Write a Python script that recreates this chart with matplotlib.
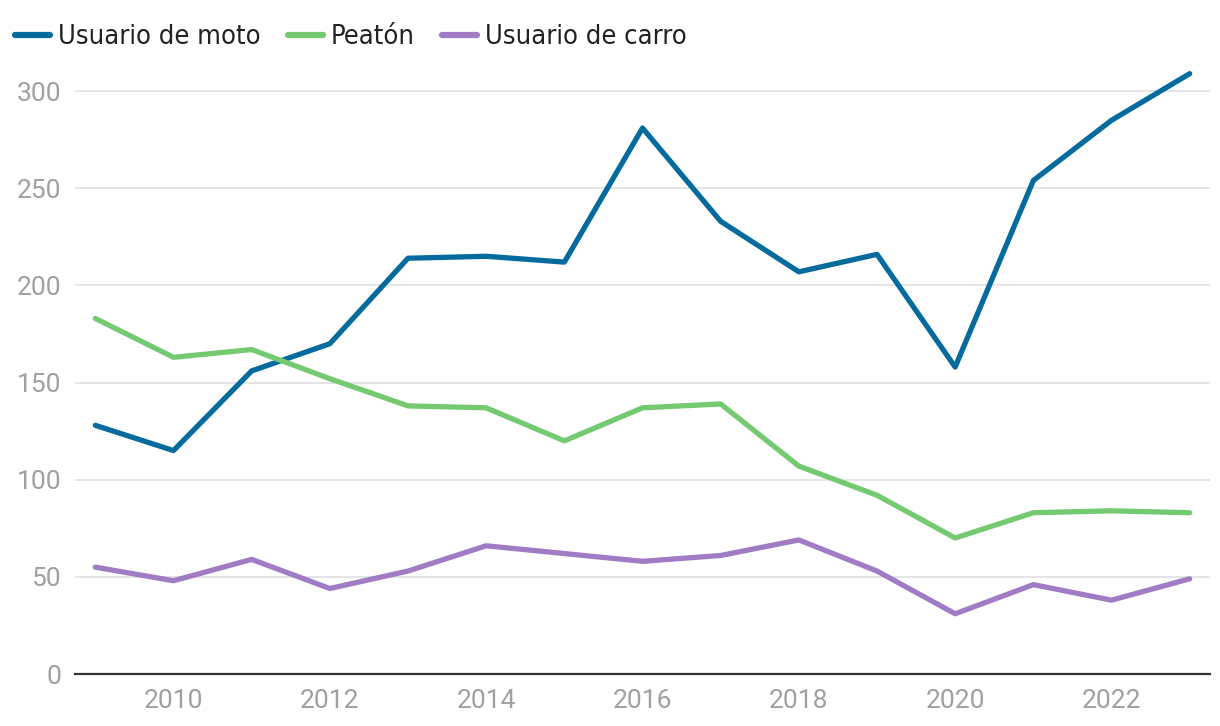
import matplotlib
matplotlib.use("Agg")
from matplotlib import pyplot as plt
from matplotlib.lines import Line2D
from matplotlib.font_manager import FontProperties

years = list(range(2009, 2024))
moto = [128, 115, 156, 170, 214, 215, 212, 281, 233, 207, 216, 158, 254, 285, 309]
peaton = [183, 163, 167, 152, 138, 137, 120, 137, 139, 107, 92, 70, 83, 84, 83]
carro = [55, 48, 59, 44, 53, 66, 62, 58, 61, 69, 53, 31, 46, 38, 49]

series_names = ["Usuario de moto", "Peatón", "Usuario de carro"]
colors = ["#046b9c", "#74c971", "#a07cc5"]
y_ticks = [0, 50, 100, 150, 200, 250, 300]
x_ticks = [2010, 2012, 2014, 2016, 2018, 2020, 2022]

plt.rcParams['font.family'] = ['Roboto', 'DejaVu Sans']

fig = plt.figure(figsize=(12.2, 7.26), dpi=100)
ax = fig.add_axes([75 / 1220, 52 / 726, 1135 / 1220, 612 / 726])

for vals, c in zip([moto, peaton, carro], colors):
    ax.plot(years, vals, color=c, linewidth=3.8, solid_capstyle='round', solid_joinstyle='round', zorder=3)

ax.set_xlim(2008.74, 2023.26)
ax.set_ylim(0, 315)
ax.set_yticks(y_ticks)
ax.set_xticks(x_ticks)
ax.grid(axis='y', color='#e0e0e0', linewidth=1.2)
ax.set_axisbelow(True)
for s in ['top', 'right', 'left']:
    ax.spines[s].set_visible(False)
ax.spines['bottom'].set_color('#333333')
ax.spines['bottom'].set_linewidth(1.6)
ax.tick_params(axis='both', length=0, labelsize=19, labelcolor='#a0a0a0')
ax.tick_params(axis='y', pad=10)
ax.tick_params(axis='x', pad=11)

handles = [Line2D([], [], color=c, linewidth=4.5, solid_capstyle='round') for c in colors]
legend_font = FontProperties(family=['DejaVu Sans'], stretch='condensed', size=19.5)
leg = fig.legend(handles, series_names, loc='upper left', bbox_to_anchor=(-0.008, 1.0), ncol=3,
                 frameon=False, handlelength=1.3, handletextpad=0.3, columnspacing=1.0,
                 prop=legend_font)
for t in leg.get_texts():
    t.set_color('#222222')

fig.savefig("out.png", dpi=100)
